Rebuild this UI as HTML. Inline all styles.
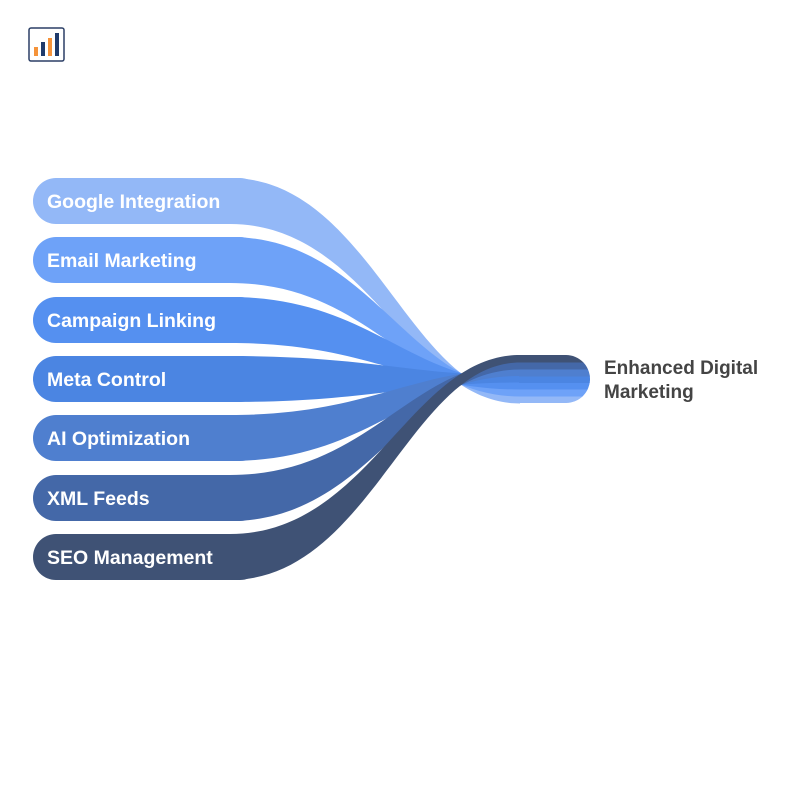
<!DOCTYPE html>
<html><head><style>body{margin:0;background:#fff}</style></head><body>
<svg width="800" height="800" xmlns="http://www.w3.org/2000/svg" font-family="Liberation Sans, sans-serif">
<defs><clipPath id="rc"><rect x="300" y="355" width="290" height="48" rx="24"/></clipPath></defs>
<rect x="29" y="28" width="35" height="33" rx="2" fill="#fff" stroke="#2b3f66" stroke-width="1.5"/>
<rect x="34" y="47" width="4" height="9" fill="#f5933a"/>
<rect x="41" y="42" width="4" height="14" fill="#1f3a6b"/>
<rect x="48" y="38" width="4" height="18" fill="#f5933a"/>
<rect x="55" y="33" width="4" height="23" fill="#1f3a6b"/>

<g fill="#93b8f7">
<rect x="33" y="178" width="230" height="46" rx="23"/>
<path d="M230,178 C370,178 410,396 520,396 L520,403.5 C410,403.5 370,224 230,224 Z"/>
<rect clip-path="url(#rc)" x="519" y="396" width="80" height="7.5"/>
</g>
<g fill="#6ea2f8">
<rect x="33" y="237" width="230" height="46" rx="23"/>
<path d="M230,237 C370,237 410,389 520,389 L520,396.5 C410,396.5 370,283 230,283 Z"/>
<rect clip-path="url(#rc)" x="519" y="389" width="80" height="7.5"/>
</g>
<g fill="#5590f0">
<rect x="33" y="297" width="230" height="46" rx="23"/>
<path d="M230,297 C370,297 410,382 520,382 L520,389.5 C410,389.5 370,343 230,343 Z"/>
<rect clip-path="url(#rc)" x="519" y="382" width="80" height="7.5"/>
</g>
<g fill="#4b85e2">
<rect x="33" y="356" width="230" height="46" rx="23"/>
<path d="M230,356 C370,356 410,375.5 520,375.5 L520,382.5 C410,382.5 370,402 230,402 Z"/>
<rect clip-path="url(#rc)" x="519" y="375.5" width="80" height="7.5"/>
</g>
<g fill="#4f7fcf">
<rect x="33" y="415" width="230" height="46" rx="23"/>
<path d="M230,415 C370,415 410,369 520,369 L520,376 C410,376 370,461 230,461 Z"/>
<rect clip-path="url(#rc)" x="519" y="369" width="80" height="7.5"/>
</g>
<g fill="#4468a8">
<rect x="33" y="475" width="230" height="46" rx="23"/>
<path d="M230,475 C370,475 410,362 520,362 L520,369.5 C410,369.5 370,521 230,521 Z"/>
<rect clip-path="url(#rc)" x="519" y="362" width="80" height="7.5"/>
</g>
<g fill="#3f5275">
<rect x="33" y="534" width="230" height="46" rx="23"/>
<path d="M230,534 C370,534 410,355 520,355 L520,362.5 C410,362.5 370,580 230,580 Z"/>
<rect clip-path="url(#rc)" x="519" y="355" width="80" height="7.5"/>
</g>

<g font-weight="bold" font-size="19.5" fill="#fff">
<text x="47" y="208">Google Integration</text>
<text x="47" y="267">Email Marketing</text>
<text x="47" y="327">Campaign Linking</text>
<text x="47" y="386">Meta Control</text>
<text x="47" y="445">AI Optimization</text>
<text x="47" y="505">XML Feeds</text>
<text x="47" y="564">SEO Management</text>
</g>
<text x="604" y="374" font-size="19" font-weight="bold" fill="#444">Enhanced Digital</text>
<text x="604" y="398" font-size="19" font-weight="bold" fill="#444">Marketing</text>
</svg>
</body></html>
